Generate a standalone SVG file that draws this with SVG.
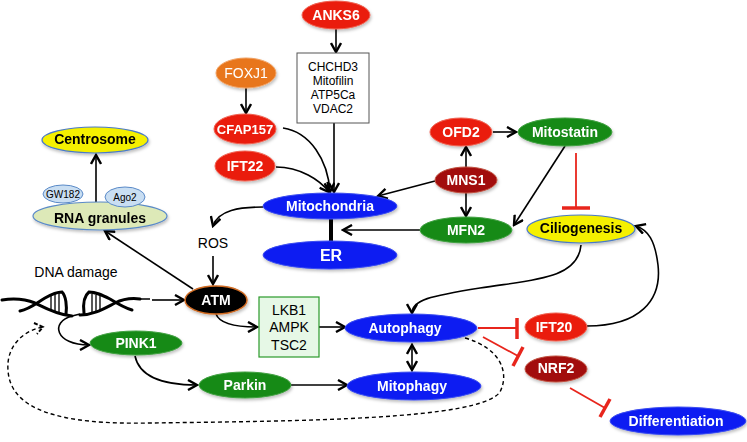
<svg xmlns="http://www.w3.org/2000/svg" width="747" height="442" viewBox="0 0 747 442">
<defs>
<style>
.lbl{font-family:"Liberation Sans",Arial,sans-serif;font-weight:bold;font-size:14px;fill:#fff;text-anchor:middle;dominant-baseline:central}
.lblk{font-family:"Liberation Sans",Arial,sans-serif;font-weight:bold;font-size:14px;fill:#000;text-anchor:middle;dominant-baseline:central}
.txt{font-family:"Liberation Sans",Arial,sans-serif;font-size:12px;fill:#000;text-anchor:middle;dominant-baseline:central}
.sm{font-family:"Liberation Sans",Arial,sans-serif;font-size:10px;fill:#000;text-anchor:middle;dominant-baseline:central}
.red{fill:#ea1f0e;stroke:#f06050;stroke-width:1}
.org{fill:#e8761e;stroke:#f0a060;stroke-width:1}
.drk{fill:#a20d0a;stroke:#c05040;stroke-width:1}
.grn{fill:#178a18;stroke:#40a040;stroke-width:1}
.blu{fill:#0a1ff2;stroke:#3a4af0;stroke-width:1}
.yel{fill:#f5f000;stroke:#4a7ac8;stroke-width:1.2}
.arr{fill:none;stroke:#000;stroke-width:1.6;marker-end:url(#ah)}
.inh{fill:none;stroke:#e8251c;stroke-width:1.8}
.bar{stroke:#e8251c;stroke-width:3.5}
.dna{fill:none;stroke:#000;stroke-width:3;stroke-linecap:round}
.rung{stroke:#000;stroke-width:1.3}
</style>
<marker id="ah" viewBox="0 0 12 12" refX="10" refY="6" markerWidth="12" markerHeight="12" markerUnits="userSpaceOnUse" orient="auto-start-reverse">
<path d="M1,1 L10,6 L1,11" fill="none" stroke="#000" stroke-width="2.4"/>
</marker>
<filter id="sh" x="-20%" y="-20%" width="140%" height="150%">
<feDropShadow dx="1" dy="2" stdDeviation="1.5" flood-color="#000" flood-opacity="0.25"/>
</filter>
</defs>
<rect width="747" height="442" fill="#fff"/>

<g id="connectors">
<line class="arr" x1="336" y1="29" x2="336" y2="52"/>
<line class="arr" x1="246" y1="88" x2="246" y2="113"/>
<path class="arr" d="M283,128 C310,132 328,160 330,192"/>
<path class="arr" d="M276,167 C300,167 320,180 329,192"/>
<line class="arr" x1="334" y1="123" x2="334" y2="192"/>
<line class="arr" x1="435" y1="181" x2="378" y2="196"/>
<line class="arr" x1="466" y1="167" x2="466" y2="147"/>
<line class="arr" x1="466" y1="193" x2="466" y2="216"/>
<line class="arr" x1="493" y1="132" x2="516" y2="132"/>
<line class="arr" x1="565" y1="146" x2="514" y2="225"/>
<path class="arr" d="M420,230 L343,230"/>
<line x1="331" y1="219" x2="331" y2="242" stroke="#000" stroke-width="4"/>
<path class="arr" d="M263,207 C240,207 218,210 213,226"/>
<line class="arr" x1="213" y1="256" x2="213" y2="284"/>
<line class="arr" x1="193" y1="289" x2="105" y2="231"/>
<line class="arr" x1="96" y1="202" x2="96" y2="155"/>
<line class="arr" x1="152" y1="300" x2="184" y2="300"/>
<path class="arr" d="M72,316 C50,322 55,345 89,345"/>
<path class="arr" d="M216,314 C220,325 240,327 257,327"/>
<line class="arr" x1="319" y1="327" x2="345" y2="327"/>
<path class="arr" d="M135,356 C140,380 170,385 197,385"/>
<line class="arr" x1="291" y1="385" x2="347" y2="385"/>
<line class="arr" x1="412" y1="345" x2="412" y2="370" style="marker-start:url(#ah)"/>
<path class="arr" d="M581,245 C578,280 530,280 480,288 C430,296 412,300 412,313"/>
<path class="arr" d="M587,326 C640,326 662,300 658,265 C655,240 648,230 636,226"/>
<path d="M465,338 C500,348 510,372 500,392 C480,420 300,421 150,423 C60,425 10,410 8,370 C6,345 25,330 43,327" fill="none" stroke="#000" stroke-width="1.4" stroke-dasharray="4,3"/>
<path d="M34,323 L43,327 L37,334" fill="none" stroke="#000" stroke-width="2" stroke-dasharray="4,2"/>
<line class="inh" x1="576" y1="153" x2="576" y2="208"/>
<line class="bar" x1="562" y1="208" x2="590" y2="208"/>
<line class="inh" x1="478" y1="328" x2="517" y2="328"/>
<line class="bar" x1="517" y1="318" x2="517" y2="339"/>
<line class="inh" x1="483" y1="337" x2="518" y2="356"/>
<line class="bar" x1="523" y1="347" x2="513" y2="366"/>
<line class="inh" x1="570" y1="388" x2="605" y2="408"/>
<line class="bar" x1="610" y1="399" x2="600" y2="417"/>
</g>

<g id="ANKS6" filter="url(#sh)"><ellipse class="red" cx="336" cy="15" rx="34" ry="14"/><text class="lbl" x="336" y="15">ANKS6</text></g>
<g id="box-mito"><rect x="297" y="53" width="72" height="70" fill="#fff" stroke="#555" stroke-width="1"/>
<text class="txt" x="333" y="67">CHCHD3</text><text class="txt" x="333" y="81">Mitofilin</text><text class="txt" x="333" y="95">ATP5Ca</text><text class="txt" x="333" y="109">VDAC2</text></g>
<g id="FOXJ1" filter="url(#sh)"><ellipse class="org" cx="246" cy="73" rx="30" ry="15"/><text class="lbl" x="246" y="73" style="font-weight:normal">FOXJ1</text></g>
<g id="CFAP157" filter="url(#sh)"><ellipse class="red" cx="245" cy="129" rx="31" ry="15"/><text class="lbl" x="245" y="129" style="font-size:13px">CFAP157</text></g>
<g id="IFT22" filter="url(#sh)"><ellipse class="red" cx="245" cy="166" rx="30" ry="15"/><text class="lbl" x="245" y="166">IFT22</text></g>
<g id="Mitochondria" filter="url(#sh)"><ellipse class="blu" cx="330" cy="206" rx="67" ry="13"/><text class="lbl" x="330" y="206">Mitochondria</text></g>
<g id="ER" filter="url(#sh)"><ellipse class="blu" cx="330" cy="255" rx="67" ry="14"/><text class="lbl" x="331" y="255" style="font-size:16px">ER</text></g>
<g id="OFD2" filter="url(#sh)"><ellipse class="red" cx="461" cy="132" rx="31" ry="14"/><text class="lbl" x="461" y="132">OFD2</text></g>
<g id="Mitostatin" filter="url(#sh)"><ellipse class="grn" cx="565" cy="132" rx="47" ry="14"/><text class="lbl" x="565" y="132">Mitostatin</text></g>
<g id="MNS1" filter="url(#sh)"><ellipse class="drk" cx="466" cy="180" rx="31" ry="13"/><text class="lbl" x="466" y="180">MNS1</text></g>
<g id="MFN2" filter="url(#sh)"><ellipse class="grn" cx="466" cy="230" rx="46" ry="13"/><text class="lbl" x="466" y="230">MFN2</text></g>
<g id="Ciliogenesis" filter="url(#sh)"><ellipse class="yel" cx="581" cy="229" rx="54" ry="14"/><text class="lblk" x="581" y="228">Ciliogenesis</text></g>
<g id="Centrosome" filter="url(#sh)"><ellipse class="yel" cx="95" cy="140" rx="53" ry="13"/><text class="lblk" x="95" y="139">Centrosome</text></g>
<g id="RNA-granules" filter="url(#sh)"><ellipse cx="100" cy="216" rx="67" ry="14" fill="#dde9b8" stroke="#5a8ac8" stroke-width="1.2"/><text class="lblk" x="100" y="218">RNA granules</text></g>
<g id="GW182"><ellipse cx="63" cy="194" rx="20" ry="9" fill="#c9def2" stroke="#5a8ac8" stroke-width="1"/><text class="sm" x="63" y="194">GW182</text></g>
<g id="Ago2"><ellipse cx="125" cy="197" rx="20" ry="10" fill="#c9def2" stroke="#5a8ac8" stroke-width="1"/><text class="sm" x="125" y="197">Ago2</text></g>
<g id="ROS"><text class="txt" x="213" y="243" style="font-size:14px">ROS</text></g>
<g id="ATM" filter="url(#sh)"><ellipse cx="216" cy="300" rx="31" ry="14" fill="#000" stroke="#d06a20" stroke-width="1.5"/><text class="lbl" x="216" y="300">ATM</text></g>
<g id="DNA-damage">
<text class="txt" x="76" y="272" style="font-size:14px">DNA damage</text>
<path class="dna" d="M2,300 C15,298 25,299 35,303 C45,308 58,315 72,316"/>
<path class="dna" d="M20,311 C30,309 38,302 45,298 C52,294 58,292 62,292 C66,296 67,306 66,314"/>
<path class="rung" d="M51,296 L51,311 M55,294 L55,313 M59,293 L59,314"/>
<path d="M72,316 L80,314" stroke="#000" stroke-width="1.5"/>
<path class="dna" d="M80,315 C94,315 105,308 115,303 C125,298 132,298 140,299"/>
<path d="M140,299 L150,299" stroke="#000" stroke-width="1.5"/>
<path class="dna" d="M84,313 C83,305 84,296 89,292 C96,292 102,295 110,299 C118,304 125,308 132,310"/>
<path class="rung" d="M92,294 L92,313 M96,295 L96,312 M100,296 L100,310"/>
</g>
<g id="PINK1" filter="url(#sh)"><ellipse class="grn" cx="136" cy="343" rx="46" ry="12"/><text class="lbl" x="136" y="343">PINK1</text></g>
<g id="Parkin" filter="url(#sh)"><ellipse class="grn" cx="245" cy="385" rx="46" ry="13"/><text class="lbl" x="245" y="385">Parkin</text></g>
<g id="LKB1-box"><rect x="259" y="297" width="60" height="60" fill="#e6f8e6" stroke="#2a9a2a" stroke-width="1.2"/>
<text class="txt" x="289" y="310" style="font-size:14px">LKB1</text><text class="txt" x="289" y="327" style="font-size:14px">AMPK</text><text class="txt" x="289" y="345" style="font-size:14px">TSC2</text></g>
<g id="Autophagy" filter="url(#sh)"><ellipse class="blu" cx="411" cy="328" rx="66" ry="14"/><text class="lbl" x="405" y="328">Autophagy</text></g>
<g id="Mitophagy" filter="url(#sh)"><ellipse class="blu" cx="414" cy="386" rx="67" ry="14"/><text class="lbl" x="412" y="386">Mitophagy</text></g>
<g id="IFT20" filter="url(#sh)"><ellipse class="red" cx="556" cy="327" rx="31" ry="14"/><text class="lbl" x="554" y="327">IFT20</text></g>
<g id="NRF2" filter="url(#sh)"><ellipse class="drk" cx="556" cy="369" rx="31" ry="13"/><text class="lbl" x="556" y="368">NRF2</text></g>
<g id="Differentiation" filter="url(#sh)"><ellipse class="blu" cx="678" cy="421" rx="68" ry="14"/><text class="lbl" x="676" y="421">Differentiation</text></g>
</svg>
